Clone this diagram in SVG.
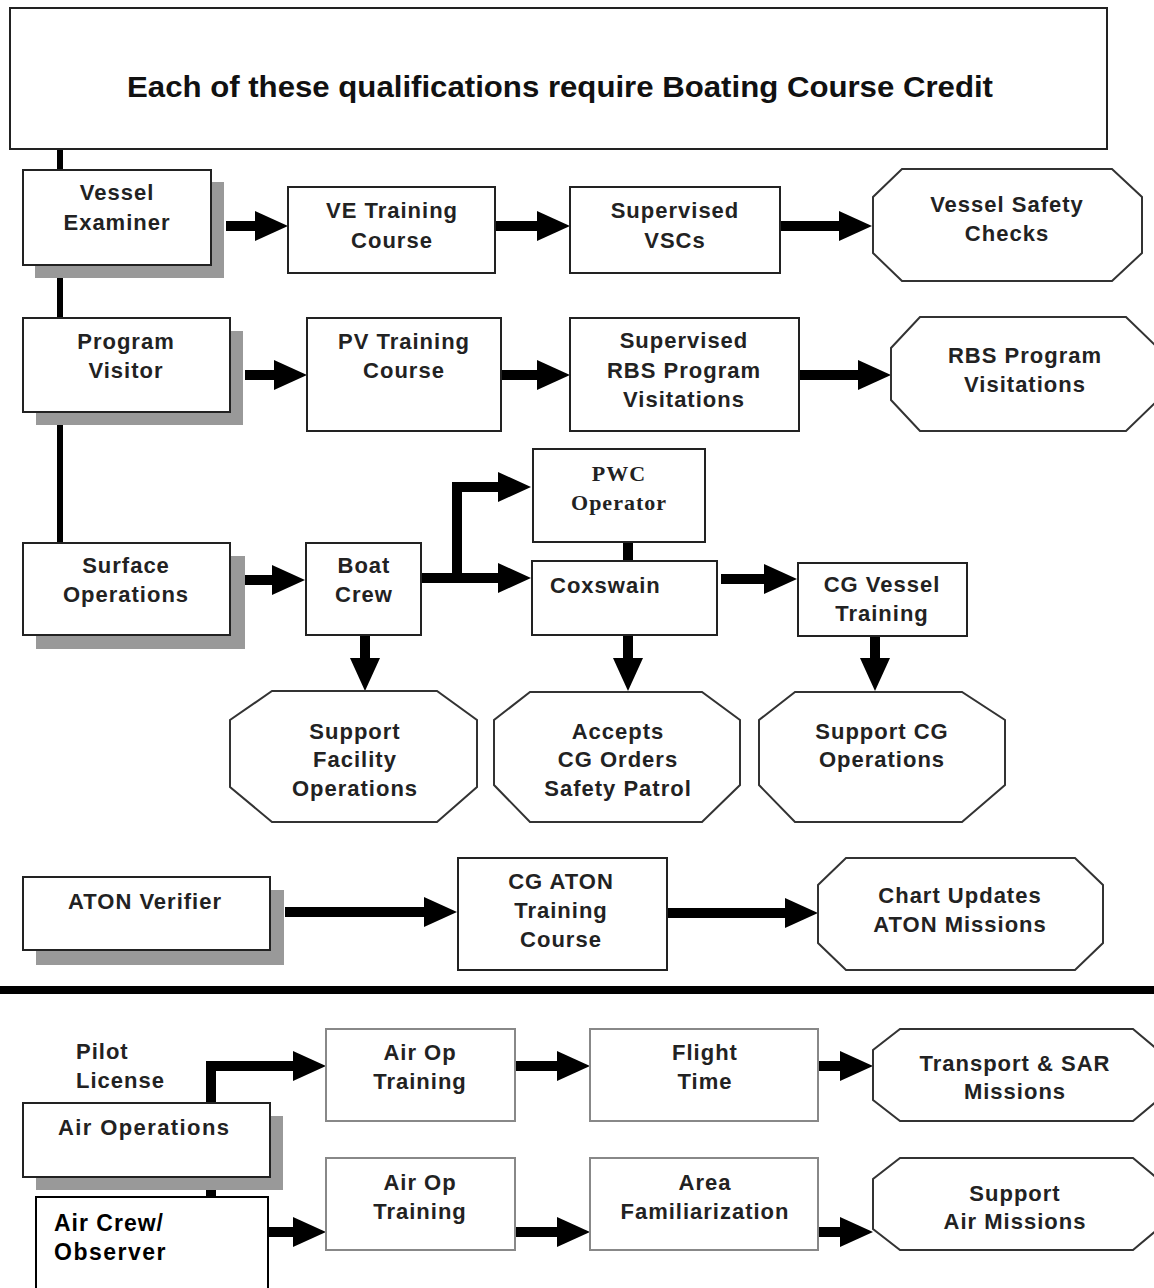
<svg xmlns="http://www.w3.org/2000/svg" width="1154" height="1288" viewBox="0 0 1154 1288">
<style>
.box{fill:#fff;stroke:#222;stroke-width:2}
.lbox{fill:#fff;stroke:#888;stroke-width:2}
.oct{fill:#fff;stroke:#333;stroke-width:2}
.sh{fill:#999}
.t{font-family:"Liberation Sans",Arial,sans-serif;font-weight:bold;font-size:22px;fill:#222;text-anchor:middle;letter-spacing:1px}
.l{text-anchor:start}
.s{font-family:"Liberation Serif","Times New Roman",serif}
.c{stroke:#000;stroke-width:10;fill:none;stroke-linejoin:miter}
</style>
<defs>
<marker id="ah" markerUnits="userSpaceOnUse" markerWidth="34" markerHeight="32" viewBox="0 0 34 32" refX="13" refY="16" orient="auto">
<path d="M0,1 L33,16 L0,31 z" fill="#000"/>
</marker>
</defs>
<rect width="1154" height="1288" fill="#fff"/>

<g id="spine">
<path d="M60,149 L60,543" stroke="#000" stroke-width="6"/>
</g>

<g id="header">
<rect x="10" y="8" width="1097" height="141" class="box"/>
<text x="560" y="97" class="t" style="font-size:29px;letter-spacing:0;fill:#111" textLength="866" lengthAdjust="spacingAndGlyphs">Each of these qualifications require Boating Course Credit</text>
</g>

<g id="connectors">
<path class="c" d="M226,226 L268,226" marker-end="url(#ah)"/>
<path class="c" d="M495,226 L550,226" marker-end="url(#ah)"/>
<path class="c" d="M780,226 L852,226" marker-end="url(#ah)"/>
<path class="c" d="M245,375 L287,375" marker-end="url(#ah)"/>
<path class="c" d="M501,375 L550,375" marker-end="url(#ah)"/>
<path class="c" d="M799,375 L871,375" marker-end="url(#ah)"/>
<path class="c" d="M230,580 L285,580" marker-end="url(#ah)"/>
<path class="c" d="M421,578 L511,578" marker-end="url(#ah)"/>
<path class="c" d="M457,578 L457,487 L511,487" marker-end="url(#ah)"/>
<path class="c" d="M628,542 L628,561"/>
<path class="c" d="M721,579 L777,579" marker-end="url(#ah)"/>
<path class="c" d="M365,635 L365,671" marker-end="url(#ah)"/>
<path class="c" d="M628,635 L628,671" marker-end="url(#ah)"/>
<path class="c" d="M875,636 L875,671" marker-end="url(#ah)"/>
<path class="c" d="M285,912 L437,912" marker-end="url(#ah)"/>
<path class="c" d="M667,913 L798,913" marker-end="url(#ah)"/>
<path class="c" d="M211,1103 L211,1066 L306,1066" marker-end="url(#ah)"/>
<path class="c" d="M515,1066 L570,1066" marker-end="url(#ah)"/>
<path class="c" d="M818,1066 L853,1066" marker-end="url(#ah)"/>
<path class="c" d="M211,1177 L211,1197"/>
<path class="c" d="M268,1232 L306,1232" marker-end="url(#ah)"/>
<path class="c" d="M515,1232 L570,1232" marker-end="url(#ah)"/>
<path class="c" d="M818,1232 L853,1232" marker-end="url(#ah)"/>
</g>

<g id="separator">
<path d="M0,990 L1154,990" stroke="#000" stroke-width="8"/>
</g>

<g id="vessel-examiner">
<rect x="35" y="182" width="189" height="96" class="sh"/>
<rect x="23" y="170" width="188" height="95" class="box"/>
<text x="117" y="200" class="t">Vessel</text>
<text x="117" y="230" class="t">Examiner</text>
</g>
<g id="ve-training">
<rect x="288" y="187" width="207" height="86" class="box"/>
<text x="392" y="218" class="t">VE Training</text>
<text x="392" y="248" class="t">Course</text>
</g>
<g id="supervised-vscs">
<rect x="570" y="187" width="210" height="86" class="box"/>
<text x="675" y="218" class="t">Supervised</text>
<text x="675" y="248" class="t">VSCs</text>
</g>
<g id="vessel-safety-checks">
<polygon points="902,169 1112,169 1142,197 1142,253 1112,281 902,281 873,253 873,197" class="oct"/>
<text x="1007" y="212" class="t">Vessel Safety</text>
<text x="1007" y="241" class="t">Checks</text>
</g>

<g id="program-visitor">
<rect x="36" y="331" width="207" height="94" class="sh"/>
<rect x="23" y="318" width="207" height="94" class="box"/>
<text x="126" y="349" class="t">Program</text>
<text x="126" y="378" class="t">Visitor</text>
</g>
<g id="pv-training">
<rect x="307" y="318" width="194" height="113" class="box"/>
<text x="404" y="349" class="t">PV Training</text>
<text x="404" y="378" class="t">Course</text>
</g>
<g id="supervised-rbs">
<rect x="570" y="318" width="229" height="113" class="box"/>
<text x="684" y="348" class="t">Supervised</text>
<text x="684" y="378" class="t">RBS Program</text>
<text x="684" y="407" class="t">Visitations</text>
</g>
<g id="rbs-visitations">
<polygon points="920,317 1126,317 1158,348 1158,400 1126,431 920,431 891,400 891,348" class="oct"/>
<text x="1025" y="363" class="t">RBS Program</text>
<text x="1025" y="392" class="t">Visitations</text>
</g>

<g id="surface-operations">
<rect x="36" y="556" width="209" height="93" class="sh"/>
<rect x="23" y="543" width="207" height="92" class="box"/>
<text x="126" y="573" class="t">Surface</text>
<text x="126" y="602" class="t">Operations</text>
</g>
<g id="boat-crew">
<rect x="306" y="543" width="115" height="92" class="box"/>
<text x="364" y="573" class="t">Boat</text>
<text x="364" y="602" class="t">Crew</text>
</g>
<g id="pwc-operator">
<rect x="533" y="449" width="172" height="93" class="box"/>
<text x="619" y="481" class="t s">PWC</text>
<text x="619" y="510" class="t s">Operator</text>
</g>
<g id="coxswain">
<rect x="532" y="561" width="185" height="74" class="box"/>
<text x="550" y="593" class="t l">Coxswain</text>
</g>
<g id="cg-vessel-training">
<rect x="798" y="563" width="169" height="73" class="box"/>
<text x="882" y="592" class="t">CG Vessel</text>
<text x="882" y="621" class="t">Training</text>
</g>
<g id="support-facility">
<polygon points="272,691 437,691 477,720 477,787 437,822 272,822 230,787 230,720" class="oct"/>
<text x="355" y="739" class="t">Support</text>
<text x="355" y="767" class="t">Facility</text>
<text x="355" y="796" class="t">Operations</text>
</g>
<g id="accepts-cg-orders">
<polygon points="530,692 702,692 740,720 740,785 702,822 530,822 494,785 494,720" class="oct"/>
<text x="618" y="739" class="t">Accepts</text>
<text x="618" y="767" class="t">CG Orders</text>
<text x="618" y="796" class="t">Safety  Patrol</text>
</g>
<g id="support-cg-operations">
<polygon points="795,692 962,692 1005,720 1005,785 962,822 795,822 759,785 759,720" class="oct"/>
<text x="882" y="739" class="t">Support CG</text>
<text x="882" y="767" class="t">Operations</text>
</g>

<g id="aton-verifier">
<rect x="36" y="890" width="248" height="75" class="sh"/>
<rect x="23" y="877" width="247" height="73" class="box"/>
<text x="145" y="909" class="t">ATON Verifier</text>
</g>
<g id="cg-aton-training">
<rect x="458" y="858" width="209" height="112" class="box"/>
<text x="561" y="889" class="t">CG ATON</text>
<text x="561" y="918" class="t">Training</text>
<text x="561" y="947" class="t">Course</text>
</g>
<g id="chart-updates">
<polygon points="846,858 1075,858 1103,885 1103,943 1075,970 846,970 818,943 818,885" class="oct"/>
<text x="960" y="903" class="t">Chart Updates</text>
<text x="960" y="932" class="t">ATON Missions</text>
</g>

<g id="pilot-license">
<text x="76" y="1059" class="t l">Pilot</text>
<text x="76" y="1088" class="t l">License</text>
</g>
<g id="air-operations">
<rect x="36" y="1116" width="247" height="74" class="sh"/>
<rect x="23" y="1103" width="247" height="74" class="box"/>
<text x="58" y="1135" class="t l" style="letter-spacing:1.4px">Air Operations</text>
</g>
<g id="air-op-training-1">
<rect x="326" y="1029" width="189" height="92" class="lbox"/>
<text x="420" y="1060" class="t">Air Op</text>
<text x="420" y="1089" class="t">Training</text>
</g>
<g id="flight-time">
<rect x="590" y="1029" width="228" height="92" class="lbox"/>
<text x="705" y="1060" class="t">Flight</text>
<text x="705" y="1089" class="t">Time</text>
</g>
<g id="transport-sar">
<polygon points="900,1029 1133,1029 1158,1050 1158,1100 1133,1121 900,1121 873,1100 873,1050" class="oct"/>
<text x="1015" y="1071" class="t">Transport &amp; SAR</text>
<text x="1015" y="1099" class="t">Missions</text>
</g>
<g id="air-crew-observer">
<rect x="36" y="1197" width="232" height="100" class="box" style="stroke:#000"/>
<text x="54" y="1231" class="t l" style="fill:#000;font-size:23px;letter-spacing:1px">Air Crew/</text>
<text x="54" y="1260" class="t l" style="fill:#000;font-size:23px;letter-spacing:1.5px">Observer</text>
</g>
<g id="air-op-training-2">
<rect x="326" y="1158" width="189" height="92" class="lbox"/>
<text x="420" y="1190" class="t">Air Op</text>
<text x="420" y="1219" class="t">Training</text>
</g>
<g id="area-familiarization">
<rect x="590" y="1158" width="228" height="92" class="lbox"/>
<text x="705" y="1190" class="t">Area</text>
<text x="705" y="1219" class="t">Familiarization</text>
</g>
<g id="support-air-missions">
<polygon points="900,1158 1133,1158 1158,1179 1158,1229 1133,1250 900,1250 873,1229 873,1179" class="oct"/>
<text x="1015" y="1201" class="t">Support</text>
<text x="1015" y="1229" class="t">Air Missions</text>
</g>
</svg>
